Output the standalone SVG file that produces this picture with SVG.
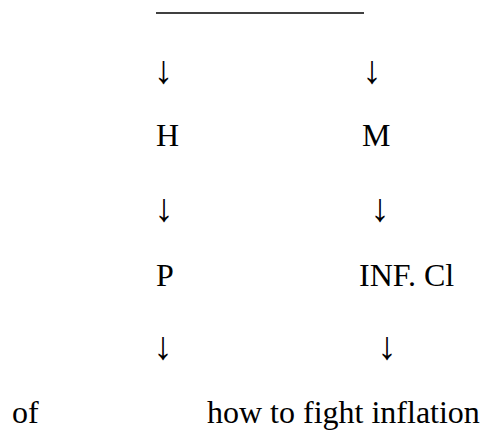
<svg xmlns="http://www.w3.org/2000/svg" width="484" height="433" viewBox="0 0 484 433">
<style>
text{font-family:"Liberation Serif","Times New Roman",serif;font-size:32px;fill:#000}
.arr{text-anchor:middle;font-size:39px}
</style>
<rect width="484" height="433" fill="#fff"/>
<g id="connectors">
<line x1="156" y1="13" x2="364" y2="13" stroke="#000" stroke-width="1.5"/>
<text class="arr" x="163.5" y="82.5">↓</text>
<text class="arr" x="372" y="82.5">↓</text>
<text class="arr" x="164" y="220.5">↓</text>
<text class="arr" x="380" y="220.5">↓</text>
<text class="arr" x="163" y="358.5">↓</text>
<text class="arr" x="387" y="358.5">↓</text>
</g>
<g id="node-H"><text x="156" y="146">H</text></g>
<g id="node-M"><text x="362" y="146">M</text></g>
<g id="node-P"><text x="156" y="286">P</text></g>
<g id="node-INF"><text x="359" y="286">INF. Cl</text></g>
<g id="node-of"><text x="12" y="423">of</text></g>
<g id="node-how"><text x="207" y="423">how to fight inflation</text></g>
</svg>
